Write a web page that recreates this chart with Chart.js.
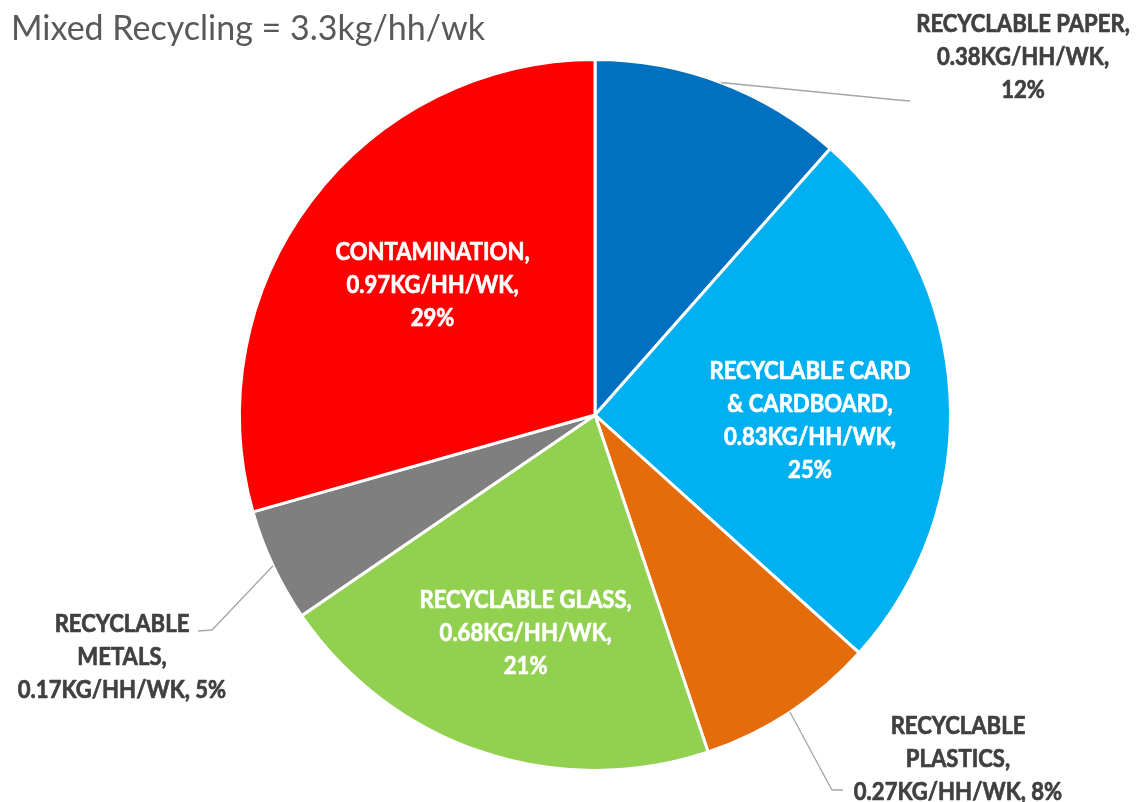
<!DOCTYPE html>
<html>
<head>
<meta charset="utf-8">
<script src="https://cdn.jsdelivr.net/npm/chart.js@4.4.1/dist/chart.umd.min.js"></script>
<style>
  html, body { margin: 0; padding: 0; background: #ffffff; }
  #wrap { width: 1138px; height: 802px; position: relative; }
</style>
</head>
<body>
<div id="wrap"><canvas id="pie" width="1138" height="802"></canvas></div>
<script>
// データ（kg/世帯/週）
const categories = [
  'Recyclable paper',
  'Recyclable card & cardboard',
  'Recyclable plastics',
  'Recyclable glass',
  'Recyclable metals',
  'Contamination'
];
const kgPerHhWk = [0.38, 0.83, 0.27, 0.68, 0.17, 0.97];
const percents = ['12%', '25%', '8%', '21%', '5%', '29%'];
const sliceColors = ['#0070C0', '#00B0F0', '#E46C0A', '#92D050', '#7F7F7F', '#FF0000'];

// ラベルの行（Excel風の折り返し）
const labelLines = [
  ['RECYCLABLE PAPER,', '0.38KG/HH/WK,', '12%'],
  ['RECYCLABLE CARD', '& CARDBOARD,', '0.83KG/HH/WK,', '25%'],
  ['RECYCLABLE', 'PLASTICS,', '0.27KG/HH/WK, 8%'],
  ['RECYCLABLE GLASS,', '0.68KG/HH/WK,', '21%'],
  ['RECYCLABLE', 'METALS,', '0.17KG/HH/WK, 5%'],
  ['CONTAMINATION,', '0.97KG/HH/WK,', '29%']
];

// ラベル配置: inside = 扇形内（半径比＋微調整）、outside = 引き出し線付き
const labelLayout = [
  { outside: true, x: 1023, y: 57, elbow: [898, 100], end: [910, 101] },
  { outside: false, k: 0.60, dx: 2, dy: 18 },
  { outside: true, x: 958, y: 759, elbow: [832, 790], end: [843, 790] },
  { outside: false, k: 0.64, dx: 3, dy: 3 },
  { outside: true, x: 122, y: 657, elbow: [212, 630], end: [198, 631] },
  { outside: false, k: 0.58, dx: 2, dy: -5 }
];

const LABEL_FONT = 'bold 24px Lato, sans-serif';
const LABEL_SQUEEZE = 0.92; // Calibri風に横を少し詰める
const TITLE_FONT = '34px Lato, sans-serif';
const LINE_H = 33;

const labelPlugin = {
  id: 'sliceLabels',
  afterDraw(chart) {
    const ctx = chart.ctx;
    const meta = chart.getDatasetMeta(0);

    // タイトル
    ctx.save();
    ctx.font = TITLE_FONT;
    ctx.fillStyle = '#595959';
    ctx.textAlign = 'left';
    ctx.textBaseline = 'alphabetic';
    ctx.fillText('Mixed Recycling = 3.3kg/hh/wk', 11, 40);
    ctx.restore();

    meta.data.forEach((arc, i) => {
      const p = arc.getProps(['x', 'y', 'startAngle', 'endAngle', 'outerRadius'], true);
      const mid = (p.startAngle + p.endAngle) / 2;
      const lay = labelLayout[i];
      const lines = labelLines[i];
      let cx, cy, color;
      ctx.save();
      if (lay.outside) {
        const sx = p.x + Math.cos(mid) * p.outerRadius;
        const sy = p.y + Math.sin(mid) * p.outerRadius;
        ctx.strokeStyle = '#A6A6A6';
        ctx.lineWidth = 1.3;
        ctx.beginPath();
        ctx.moveTo(sx, sy);
        ctx.lineTo(lay.elbow[0], lay.elbow[1]);
        ctx.lineTo(lay.end[0], lay.end[1]);
        ctx.stroke();
        cx = lay.x;
        cy = lay.y;
        color = '#404040';
      } else {
        cx = p.x + Math.cos(mid) * p.outerRadius * lay.k + lay.dx;
        cy = p.y + Math.sin(mid) * p.outerRadius * lay.k + lay.dy;
        color = '#FFFFFF';
      }
      ctx.font = LABEL_FONT;
      ctx.textAlign = 'center';
      ctx.textBaseline = 'middle';
      ctx.fillStyle = color;
      ctx.strokeStyle = color;
      ctx.lineWidth = 0.7;
      ctx.lineJoin = 'round';
      const top = cy - (lines.length - 1) * LINE_H / 2;
      lines.forEach((t, j) => {
        ctx.save();
        ctx.translate(cx, top + j * LINE_H);
        ctx.scale(LABEL_SQUEEZE, 1);
        ctx.fillText(t, 0, 0);
        ctx.strokeText(t, 0, 0); // 太字を少し強める
        ctx.restore();
      });
      ctx.restore();
    });
  }
};

function drawChart() {
  new Chart(document.getElementById('pie'), {
    type: 'pie',
    data: {
      labels: categories,
      datasets: [{
        data: kgPerHhWk,
        backgroundColor: sliceColors,
        borderColor: '#FFFFFF',
        borderWidth: 3
      }]
    },
    options: {
      responsive: false,
      animation: false,
      devicePixelRatio: 1,
      layout: {
        padding: { top: 58, bottom: 30, left: 238, right: 186 }
      },
      plugins: {
        legend: { display: false },
        tooltip: { enabled: false },
        title: { display: false }
      }
    },
    plugins: [labelPlugin]
  });
}

// フォントを読み込んでから描画
Promise.all([
  document.fonts.load(LABEL_FONT, 'A'),
  document.fonts.load(TITLE_FONT, 'A')
]).catch(() => {}).then(drawChart);
</script>
</body>
</html>
